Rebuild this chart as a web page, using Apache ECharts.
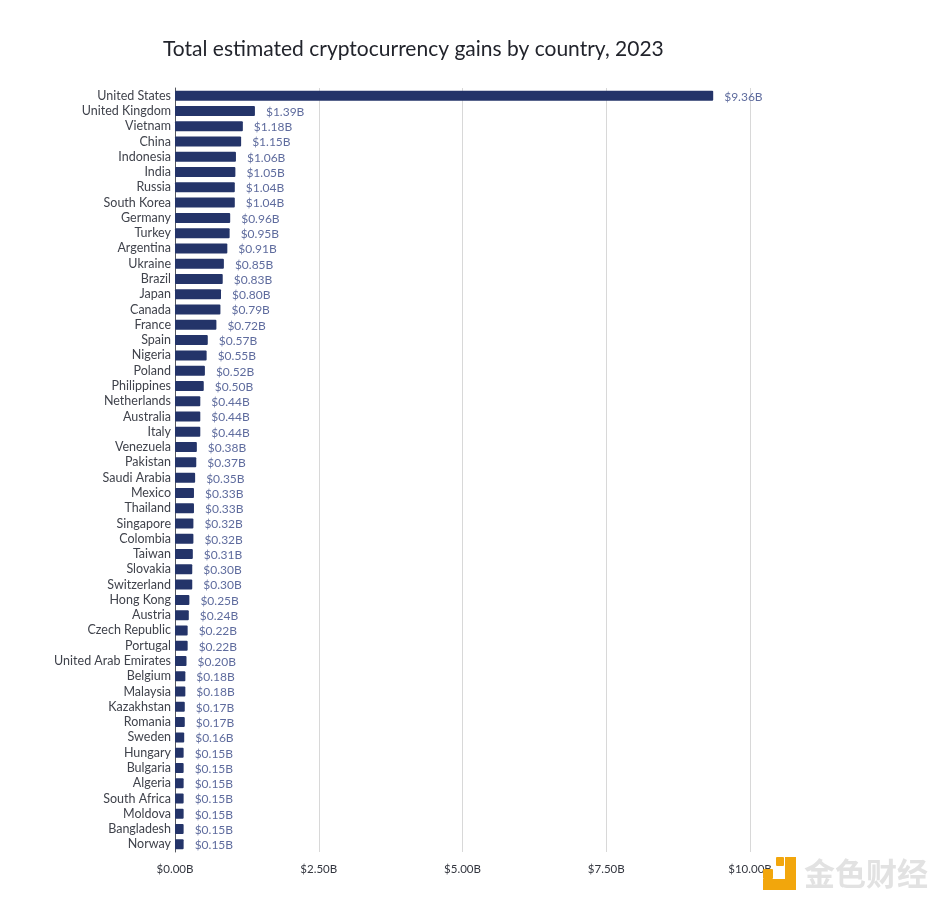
<!DOCTYPE html>
<html>
<head>
<meta charset="utf-8">
<style>
  html, body { margin: 0; padding: 0; background: #fff; }
  #chart { width: 940px; height: 902px; }
</style>
<script src="https://cdn.jsdelivr.net/npm/echarts@6/dist/echarts.min.js"></script>
</head>
<body>
<div id="chart"></div>
<script>
var titleText = 'Total estimated cryptocurrency gains by country, 2023';
var countries = ['United States', 'United Kingdom', 'Vietnam', 'China', 'Indonesia', 'India', 'Russia', 'South Korea', 'Germany', 'Turkey',
  'Argentina', 'Ukraine', 'Brazil', 'Japan', 'Canada', 'France', 'Spain', 'Nigeria', 'Poland', 'Philippines',
  'Netherlands', 'Australia', 'Italy', 'Venezuela', 'Pakistan', 'Saudi Arabia', 'Mexico', 'Thailand', 'Singapore', 'Colombia',
  'Taiwan', 'Slovakia', 'Switzerland', 'Hong Kong', 'Austria', 'Czech Republic', 'Portugal', 'United Arab Emirates', 'Belgium', 'Malaysia',
  'Kazakhstan', 'Romania', 'Sweden', 'Hungary', 'Bulgaria', 'Algeria', 'South Africa', 'Moldova', 'Bangladesh', 'Norway'];
var gains = [9.36, 1.39, 1.18, 1.15, 1.06, 1.05, 1.04, 1.04, 0.96, 0.95,
  0.91, 0.85, 0.83, 0.80, 0.79, 0.72, 0.57, 0.55, 0.52, 0.50,
  0.44, 0.44, 0.44, 0.38, 0.37, 0.35, 0.33, 0.33, 0.32, 0.32,
  0.31, 0.30, 0.30, 0.25, 0.24, 0.22, 0.22, 0.20, 0.18, 0.18,
  0.17, 0.17, 0.16, 0.15, 0.15, 0.15, 0.15, 0.15, 0.15, 0.15];

var chart = echarts.init(document.getElementById('chart'), null, { renderer: 'canvas' });

function money(v) {
  return '$' + v.toFixed(2) + 'B';
}

var fontName = 'Lato';

chart.setOption({
  animation: false,
  backgroundColor: '#ffffff',
  title: {
    text: titleText,
    left: 163,
    top: 39,
    padding: 0,
    textStyle: { fontFamily: fontName, fontSize: 21, fontWeight: 'normal', color: '#22242c' }
  },
  grid: { left: 175, top: 88, width: 575, height: 764, containLabel: false },
  xAxis: {
    type: 'value',
    min: 0,
    max: 10,
    interval: 2.5,
    axisLine: { show: false },
    axisTick: { show: false },
    axisLabel: {
      margin: 11,
      fontFamily: fontName,
      fontSize: 11.5,
      color: '#33363f',
      formatter: function (v) { return money(v); }
    },
    splitLine: { show: true, lineStyle: { color: '#d8d8d8', width: 1 } }
  },
  yAxis: {
    type: 'category',
    inverse: true,
    data: countries,
    axisLine: { show: true, onZero: false, lineStyle: { color: '#55585f', width: 1 } },
    axisTick: { show: false },
    axisLabel: { interval: 0, margin: 4, fontFamily: fontName, fontSize: 12.5, color: '#40434c' }
  },
  series: [{
    type: 'bar',
    data: gains,
    barWidth: 10,
    z: 3,
    itemStyle: { color: '#243469', borderRadius: 1 },
    label: {
      show: true,
      position: 'right',
      distance: 11,
      offset: [0, 1],
      fontFamily: fontName,
      fontSize: 12,
      color: '#5f6c9e',
      formatter: function (p) { return money(p.value); }
    }
  }],
  graphic: [
    // watermark in the bottom right corner
    { type: 'rect', shape: { x: 785, y: 857, width: 11, height: 33 }, style: { fill: '#f2a60c' }, z: 10 },
    { type: 'rect', shape: { x: 763, y: 879, width: 33, height: 11 }, style: { fill: '#f2a60c' }, z: 10 },
    { type: 'rect', shape: { x: 776, y: 857, width: 8, height: 9, r: 1 }, style: { fill: '#f2a60c' }, z: 12 },
    { type: 'rect', shape: { x: 763, y: 869, width: 10, height: 10, r: 1 }, style: { fill: '#f2a60c' }, z: 12 },
    {
      type: 'text',
      left: 804,
      top: 858,
      z: 10,
      style: {
        text: '金色财经',
        fontFamily: 'Noto Sans CJK SC',
        fontSize: 31,
        fontWeight: 'bold',
        fill: '#e2e2e2'
      }
    }
  ]
});
</script>
</body>
</html>
